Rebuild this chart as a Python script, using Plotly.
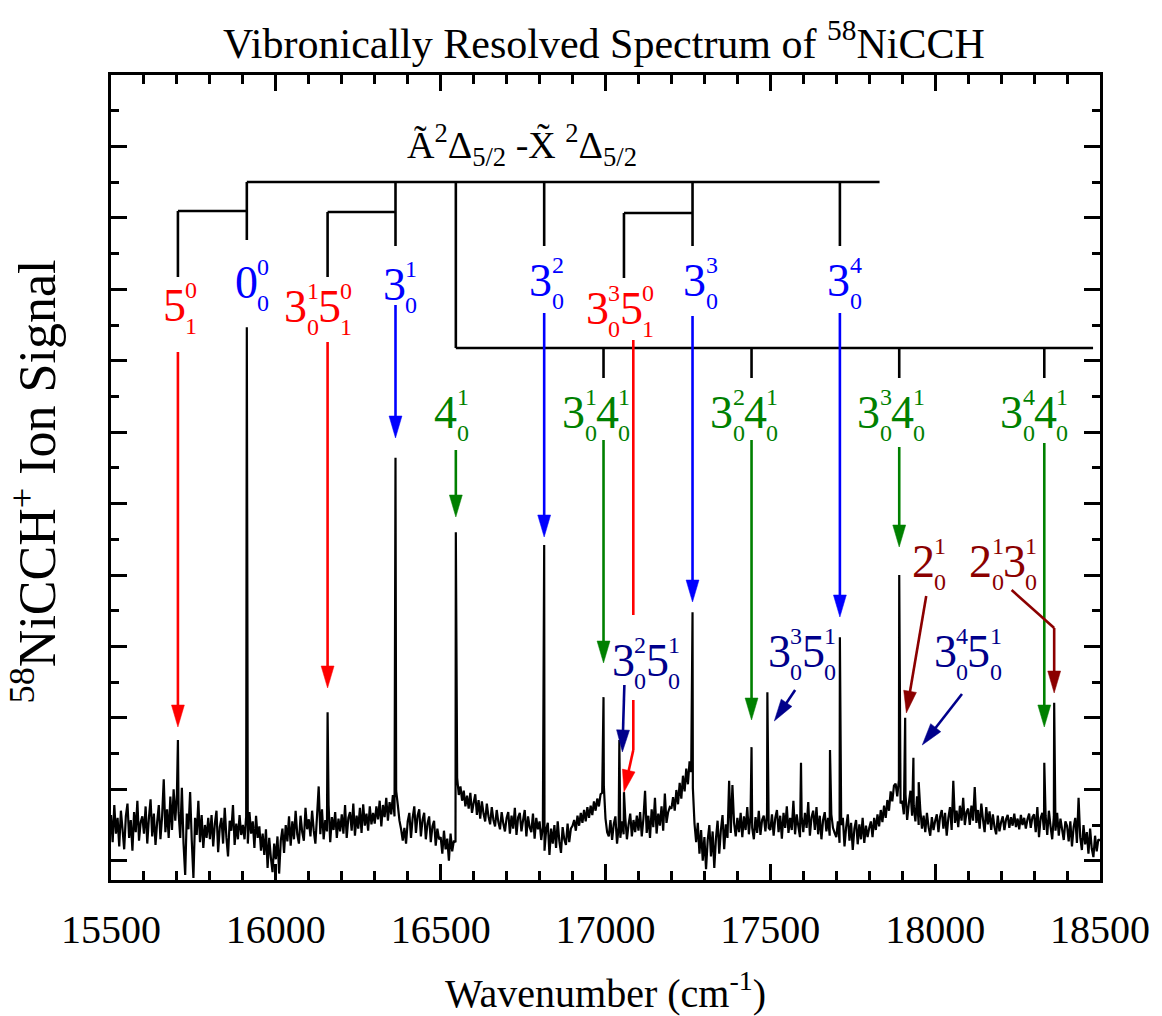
import plotly.graph_objects as go

# ---------------- data ----------------
WN_START = 15500
WN_STEP = 5
signal_x100 = [
    64, 26, 78, 38, 60, 20, 70, 44, 16, 62, 80, 32, 57, 14, 68, 40, 84, 28, 54, 62,
    38, 76, 24, 60, 86, 34, 66, 22, 54, 78, 30, 62, 114, 40, 72, 32, 90, 43, 100, 56,
    94, 68, 32, 102, 24, -20, 66, 44, 96, 28, -24, 60, 36, 84, 26, 64, 18, 50, 32, 60,
    30, 64, 20, 52, 70, 12, 47, 60, 24, 74, 33, 6, 56, 42, 78, 22, 52, 30, 64, 36,
    50, 30, 62, 24, 68, 38, 55, 18, 63, 32, 48, 14, 38, 8, 44, -10, 32, 4, -16, 24,
    2, 34, -18, 28, 45, 11, 50, 27, 62, 21, 55, 30, 70, 37, 24, 63, 40, 28, 74, 44,
    58, 34, 70, 42, 24, 63, 104, 37, 72, 30, 57, 41, 78, 26, 61, 43, 68, 32, 59, 41,
    65, 38, 78, 32, 60, 68, 42, 80, 35, 63, 45, 74, 39, 79, 49, 66, 42, 76, 51, 67,
    52, 76, 58, 84, 48, 78, 61, 88, 56, 82, 65, 92, 62, 98, 78, 56, 44, 28, 46, 24,
    55, 67, 32, 60, 76, 39, 63, 72, 34, 57, 67, 30, 52, 62, 26, 48, 56, 21, 45, 30,
    33, 10, 42, 16, 31, 0, 38, 13, 28, 26, 116, 92, 104, 84, 98, 76, 91, 73, 95, 67,
    81, 93, 64, 85, 59, 83, 66, 55, 80, 62, 51, 75, 57, 48, 71, 54, 44, 68, 52, 41,
    60, 68, 38, 63, 45, 74, 36, 61, 67, 41, 57, 71, 34, 62, 47, 40, 66, 31, 60, 44,
    55, 29, 47, 14, 43, 53, 8, 45, 24, 50, 18, 55, 27, 11, 47, 30, 22, 52, 26, 45,
    49, 57, 42, 63, 49, 67, 53, 71, 55, 75, 60, 77, 64, 83, 70, 87, 76, 93, 95, 104,
    59, 40, 34, 57, 29, 51, 62, 24, 48, 32, 55, 37, 60, 30, 51, 66, 34, 57, 40, 63,
    42, 68, 34, 59, 98, 39, 63, 32, 72, 47, 88, 38, 66, 49, 76, 42, 94, 53, 68, 75,
    73, 89, 70, 99, 79, 109, 87, 119, 97, 129, 107, 139, 124, 102, 52, 26, 53, 10, 43, 0,
    33, -12, 29, 50, 6, 41, -10, 31, 56, 10, 43, 64, 16, 51, 32, 112, 39, 106, 53, 34,
    60, 40, 67, 33, 62, 43, 75, 37, 64, 46, 30, 61, 39, 70, 36, 57, 63, 41, 66, 46,
    43, 65, 35, 60, 71, 40, 63, 31, 67, 46, 76, 39, 60, 43, 84, 37, 65, 48, 33, 62,
    40, 67, 46, 82, 35, 61, 70, 43, 75, 37, 63, 30, 57, 68, 41, 60, 35, 65, 46, 39,
    33, 55, 25, 50, 60, 20, 47, 65, 28, 53, 15, 45, 57, 23, 51, 30, 60, 25, 49, 33,
    46, 55, 33, 60, 43, 65, 48, 71, 54, 77, 60, 85, 70, 97, 83, 105, 108, 90, 113, 80,
    84, 65, 93, 57, 80, 98, 63, 77, 55, 90, 50, 71, 45, 63, 40, 67, 47, 35, 61, 43,
    56, 65, 40, 62, 71, 45, 67, 35, 60, 75, 43, 112, 53, 70, 47, 77, 56, 88, 50, 68,
    73, 50, 77, 56, 103, 53, 71, 45, 80, 58, 40, 75, 51, 69, 43, 65, 47, 37, 63, 41,
    54, 62, 43, 58, 64, 46, 61, 49, 66, 47, 59, 44, 64, 50, 60, 45, 58, 66, 46, 61,
    65, 40, 75, 33, 60, 67, 43, 63, 36, 70, 48, 30, 62, 42, 67, 35, 59, 44, 29, 55,
    49, 27, 55, 20, 47, 60, 25, 88, 33, 15, 50, 23, 40, 10, 45, 17, 5, 35, 13, 30,
    28,
]

# sharp vibronic lines (cm-1, signal)
peak_wn = [15703, 15912, 16157, 16363, 16546, 16814, 16994, 17042, 17056, 17264,
           17443, 17491, 17593, 17681, 17711, 17891, 17909, 17934, 17950, 18331, 18361]
peak_height = [1.69, 7.47, 2.08, 5.64, 4.60, 4.42, 2.29, 1.69, 0.96, 3.48,
               1.59, 2.36, 1.37, 1.55, 3.13, 4.00, 2.00, 1.44, 1.10, 1.37, 2.21]

x_ticks = [15500, 16000, 16500, 17000, 17500, 18000, 18500]

# ---------------- geometry helpers ----------------
XMIN, XMAX = 15500, 18500
YMIN, YMAX = -0.27, 11.0
L, R, T, B = 111, 1107, 75, 880
W, H = 1162, 1016
FONT = "Liberation Serif"

RED = "#ff0000"
BLUE = "#0000ff"
GREEN = "#008000"
NAVY = "#00008b"
DRED = "#8b0000"


def xd(px):
    return XMIN + (px - L) / (R - L) * (XMAX - XMIN)


def yd(py):
    return YMAX - (py - T) / (B - T) * (YMAX - YMIN)


def xp(wn):
    return L + (wn - XMIN) / (XMAX - XMIN) * (R - L)


shapes = []
annotations = []


def seg(p0, p1, color="black", width=2.6):
    shapes.append(dict(type="line", xref="x", yref="y",
                       x0=xd(p0[0]), y0=yd(p0[1]), x1=xd(p1[0]), y1=yd(p1[1]),
                       line=dict(color=color, width=width)))


def poly(pts, color="black", width=2.6):
    for a, b in zip(pts[:-1], pts[1:]):
        seg(a, b, color, width)


def arrow(pts, color, width=2.6, hl=22, hw=6.5):
    (x0, y0), (x1, y1) = pts[-2], pts[-1]
    dx, dy = x1 - x0, y1 - y0
    n = (dx * dx + dy * dy) ** 0.5
    ux, uy = dx / n, dy / n
    bx, by = x1 - ux * hl, y1 - uy * hl
    poly(pts[:-1] + [(bx + ux * 2, by + uy * 2)], color, width)
    lx, ly = bx - uy * hw, by + ux * hw
    rx, ry = bx + uy * hw, by - ux * hw
    path = "M {},{} L {},{} L {},{} Z".format(
        xd(x1), yd(y1), xd(lx), yd(ly), xd(rx), yd(ry))
    shapes.append(dict(type="path", xref="x", yref="y", path=path,
                       fillcolor=color, line=dict(color=color, width=0.5)))


def txt(s, px, py, size, color="black", **kw):
    annotations.append(dict(text=s, x=xd(px), y=yd(py), xref="x", yref="y",
                            showarrow=False, xanchor="center", yanchor="middle",
                            font=dict(family=FONT, size=size, color=color), **kw))


def label(atoms, x0, y0, color, step=34, big=46, small=24):
    for i, (b, sp, sb) in enumerate(atoms):
        cx = x0 + i * step
        txt(b, cx, y0, big, color)
        txt(sp, cx + 17, y0 - 15, small, color)
        txt(sb, cx + 17, y0 + 21, small, color)


def ptxt(s, px, py, size, **kw):
    annotations.append(dict(text=s, x=(px - L) / (R - L), y=(B - py) / (B - T),
                            xref="paper", yref="paper", showarrow=False,
                            xanchor="center", yanchor="middle",
                            font=dict(family=FONT, size=size, color="black"), **kw))


# ---------------- spectrum ----------------
grid = [WN_START + i * WN_STEP for i in range(len(signal_x100))]
pts = sorted(list(zip(grid, [s / 100 for s in signal_x100])) +
             list(zip(peak_wn, peak_height)))
spec_x = [p[0] for p in pts]
spec_y = [p[1] for p in pts]

fig = go.Figure()
fig.add_trace(go.Scatter(x=spec_x, y=spec_y, mode="lines",
                         line=dict(color="black", width=2.2, simplify=False),
                         showlegend=False, hoverinfo="skip"))

# ---------------- progression brackets ----------------
pk = dict(zip(["5_1", "000", "31_51", "31", "41", "32", "3141", "3251", "3351",
               "33", "3241", "3351b", "x1", "x2", "34", "3341", "21", "3451",
               "x3", "3441", "2131"], peak_wn))
seg((xp(pk["000"]), 182), (885, 182))
seg((xp(pk["000"]), 182), (xp(pk["000"]), 240))
for k in ["31", "32", "33", "34"]:
    seg((xp(pk[k]), 182), (xp(pk[k]), 246))
seg((xp(pk["41"]), 182), (xp(pk["41"]), 348))
poly([(xp(pk["5_1"]), 277), (xp(pk["5_1"]), 211), (xp(pk["000"]), 211)])
poly([(xp(pk["31_51"]), 277), (xp(pk["31_51"]), 212), (xp(pk["31"]), 212)])
poly([(xp(pk["3351"]), 278), (xp(pk["3351"]), 213), (xp(pk["33"]), 213)])
seg((xp(pk["41"]), 348), (1100, 348))
for k in ["3141", "3241", "3341", "3441"]:
    seg((xp(pk[k]), 348), (xp(pk[k]), 378))

# ---------------- arrows ----------------
arrow([(xp(pk["5_1"]), 352), (xp(pk["5_1"]), 727)], RED)
arrow([(xp(pk["31_51"]), 342), (xp(pk["31_51"]), 688)], RED)
seg((637, 340), (637, 615), RED)
arrow([(637, 700), (637, 750), (xp(pk["3351"]), 792)], RED)

for k, y0, y1 in [("31", 305, 438), ("32", 313, 537), ("33", 316, 602), ("34", 313, 617)]:
    arrow([(xp(pk[k]), y0), (xp(pk[k]), y1)], BLUE)

for k, y0, y1 in [("41", 450, 517), ("3141", 440, 663), ("3241", 440, 720),
                  ("3341", 447, 547), ("3441", 443, 727)]:
    arrow([(xp(pk[k]), y0), (xp(pk[k]), y1)], GREEN)

arrow([(628, 685), (626, 752)], NAVY)
arrow([(800, 690), (779, 721)], NAVY)
arrow([(968, 694), (928, 745)], NAVY)

arrow([(932, 596), (912, 713)], DRED)
arrow([(1018, 590), (xp(pk["2131"]), 628), (xp(pk["2131"]), 693)], DRED)

# ---------------- labels ----------------
label([("5", "0", "1")], 175, 305, RED)
label([("3", "1", "0"), ("5", "0", "1")], 297, 306, RED)
label([("3", "3", "0"), ("5", "0", "1")], 601, 308, RED)

label([("0", "0", "0")], 247, 282, BLUE)
label([("3", "1", "0")], 396, 284, BLUE)
label([("3", "2", "0")], 544, 280, BLUE)
label([("3", "3", "0")], 699, 280, BLUE)
label([("3", "4", "0")], 844, 280, BLUE)

label([("4", "1", "0")], 448, 412, GREEN)
label([("3", "1", "0"), ("4", "1", "0")], 577, 412, GREEN)
label([("3", "2", "0"), ("4", "1", "0")], 726, 412, GREEN)
label([("3", "3", "0"), ("4", "1", "0")], 874, 412, GREEN)
label([("3", "4", "0"), ("4", "1", "0")], 1018, 412, GREEN)

label([("3", "2", "0"), ("5", "1", "0")], 627, 660, NAVY)
label([("3", "3", "0"), ("5", "1", "0")], 784, 651, NAVY)
label([("3", "4", "0"), ("5", "1", "0")], 951, 651, NAVY)

label([("2", "1", "0")], 929, 561, DRED)
label([("2", "1", "0"), ("3", "1", "0")], 987, 561, DRED)

txt("\u00c3<sup>2</sup>\u0394<sub>5/2</sub> -X\u0303 <sup>2</sup>\u0394<sub>5/2</sub>",
    525, 145, 38)

# titles
ptxt("Vibronically Resolved Spectrum of <sup>58</sup>NiCCH", 607, 40, 42)
ptxt("Wavenumber (cm<sup>-1</sup>)", 609, 990, 40)
ptxt("<sup>58</sup>NiCCH<sup>+</sup> Ion Signal", 33, 482, 52, textangle=-90)

axis_common = dict(showline=True, linecolor="black", linewidth=3, mirror="allticks",
                   ticks="inside", ticklen=16, tickwidth=2.5, tickcolor="black",
                   showgrid=False, zeroline=False)

fig.update_layout(
    width=W, height=H,
    margin=dict(l=L, r=W - R, t=T, b=H - B, pad=0),
    paper_bgcolor="white", plot_bgcolor="white",
    showlegend=False,
    font=dict(family=FONT, color="black"),
    xaxis=dict(range=[XMIN, XMAX], tickmode="array", tickvals=x_ticks,
               ticktext=[str(t) for t in x_ticks],
               tickfont=dict(family=FONT, size=40, color="black"),
               ticklabelstandoff=12,
               minor=dict(dtick=100, tick0=XMIN, ticks="inside", ticklen=9,
                          tickwidth=2.5, tickcolor="black", showgrid=False),
               **axis_common),
    yaxis=dict(range=[YMIN, YMAX], tickmode="linear", tick0=0, dtick=1,
               showticklabels=False,
               minor=dict(dtick=0.5, tick0=0, ticks="inside", ticklen=8,
                          tickwidth=2.5, tickcolor="black", showgrid=False),
               **axis_common),
    shapes=shapes,
    annotations=annotations,
)

fig.write_html("out.html")
